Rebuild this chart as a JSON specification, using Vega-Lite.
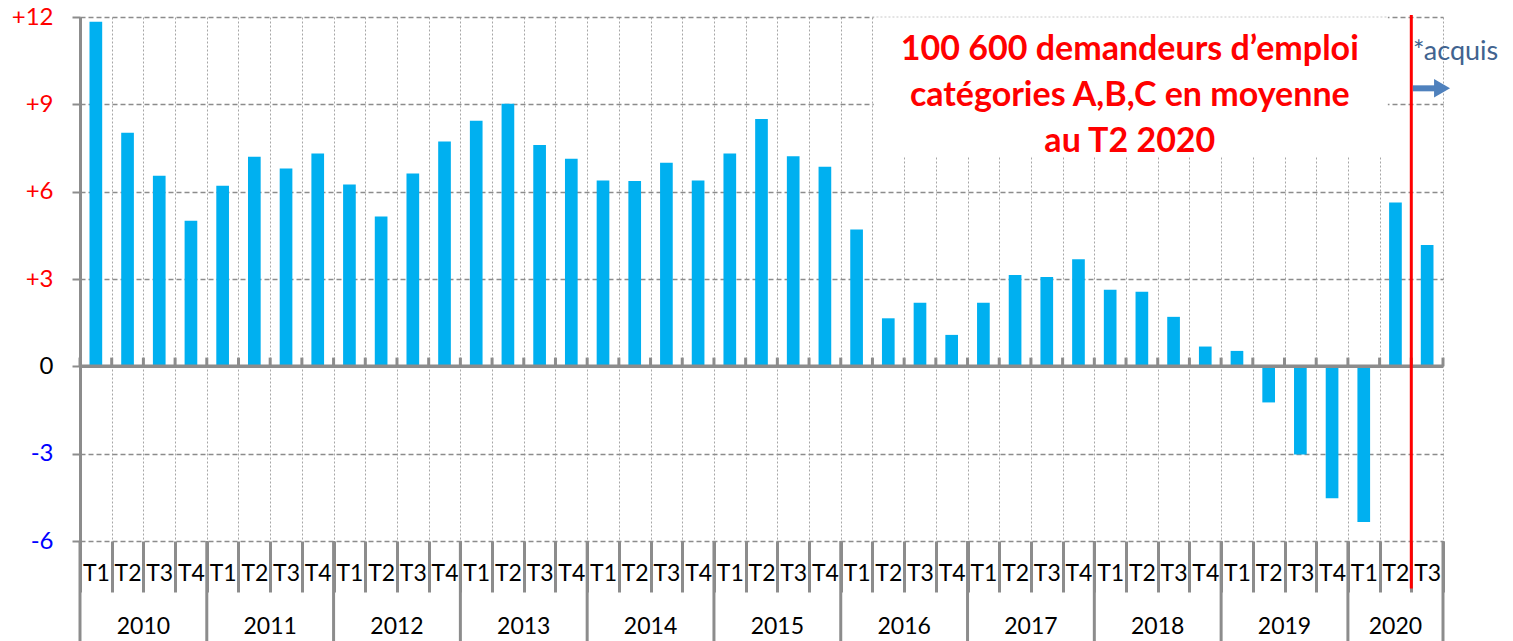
{
  "$schema": "https://vega.github.io/schema/vega-lite/v6.json",
  "width": 1363,
  "height": 524,
  "autosize": {"type": "none"},
  "padding": {"left": 80, "top": 17, "right": 70, "bottom": 100},
  "background": "white",
  "config": {"view": {"stroke": null}, "font": "Lato"},
  "datasets": {
    "q": [
      {"key": "2010-T1", "year": "2010", "q": "T1", "value": 11.84},
      {"key": "2010-T2", "year": "2010", "q": "T2", "value": 8.02},
      {"key": "2010-T3", "year": "2010", "q": "T3", "value": 6.55},
      {"key": "2010-T4", "year": "2010", "q": "T4", "value": 5.0},
      {"key": "2011-T1", "year": "2011", "q": "T1", "value": 6.2},
      {"key": "2011-T2", "year": "2011", "q": "T2", "value": 7.2},
      {"key": "2011-T3", "year": "2011", "q": "T3", "value": 6.8},
      {"key": "2011-T4", "year": "2011", "q": "T4", "value": 7.31},
      {"key": "2012-T1", "year": "2012", "q": "T1", "value": 6.25},
      {"key": "2012-T2", "year": "2012", "q": "T2", "value": 5.15},
      {"key": "2012-T3", "year": "2012", "q": "T3", "value": 6.62},
      {"key": "2012-T4", "year": "2012", "q": "T4", "value": 7.72},
      {"key": "2013-T1", "year": "2013", "q": "T1", "value": 8.44},
      {"key": "2013-T2", "year": "2013", "q": "T2", "value": 9.02},
      {"key": "2013-T3", "year": "2013", "q": "T3", "value": 7.6},
      {"key": "2013-T4", "year": "2013", "q": "T4", "value": 7.13},
      {"key": "2014-T1", "year": "2014", "q": "T1", "value": 6.38},
      {"key": "2014-T2", "year": "2014", "q": "T2", "value": 6.37},
      {"key": "2014-T3", "year": "2014", "q": "T3", "value": 6.99},
      {"key": "2014-T4", "year": "2014", "q": "T4", "value": 6.38},
      {"key": "2015-T1", "year": "2015", "q": "T1", "value": 7.31},
      {"key": "2015-T2", "year": "2015", "q": "T2", "value": 8.5},
      {"key": "2015-T3", "year": "2015", "q": "T3", "value": 7.22},
      {"key": "2015-T4", "year": "2015", "q": "T4", "value": 6.86},
      {"key": "2016-T1", "year": "2016", "q": "T1", "value": 4.7},
      {"key": "2016-T2", "year": "2016", "q": "T2", "value": 1.65},
      {"key": "2016-T3", "year": "2016", "q": "T3", "value": 2.18},
      {"key": "2016-T4", "year": "2016", "q": "T4", "value": 1.08},
      {"key": "2017-T1", "year": "2017", "q": "T1", "value": 2.18},
      {"key": "2017-T2", "year": "2017", "q": "T2", "value": 3.14},
      {"key": "2017-T3", "year": "2017", "q": "T3", "value": 3.07},
      {"key": "2017-T4", "year": "2017", "q": "T4", "value": 3.68},
      {"key": "2018-T1", "year": "2018", "q": "T1", "value": 2.63},
      {"key": "2018-T2", "year": "2018", "q": "T2", "value": 2.56},
      {"key": "2018-T3", "year": "2018", "q": "T3", "value": 1.7},
      {"key": "2018-T4", "year": "2018", "q": "T4", "value": 0.68},
      {"key": "2019-T1", "year": "2019", "q": "T1", "value": 0.53},
      {"key": "2019-T2", "year": "2019", "q": "T2", "value": -1.24},
      {"key": "2019-T3", "year": "2019", "q": "T3", "value": -3.03},
      {"key": "2019-T4", "year": "2019", "q": "T4", "value": -4.53},
      {"key": "2020-T1", "year": "2020", "q": "T1", "value": -5.35},
      {"key": "2020-T2", "year": "2020", "q": "T2", "value": 5.63},
      {"key": "2020-T3", "year": "2020", "q": "T3", "value": 4.17}
    ]
  },
  "layer": [
    {
      "data": {"name": "q"},
      "mark": {"type": "bar", "color": "#00B0F0", "width": {"band": 0.4}},
      "encoding": {
        "x": {
          "field": "key", "type": "ordinal",
          "scale": {"paddingInner": 0, "paddingOuter": 0},
          "axis": {
            "title": null, "orient": "bottom", "domain": false,
            "tickBand": "extent", "grid": true,
            "gridColor": "#a6a6a6", "gridDash": [2, 2], "gridWidth": 1,
            "ticks": true, "tickSize": 51, "tickWidth": 3, "tickColor": "#8c8c8c",
            "labelExpr": "split(datum.value, '-')[1]",
            "labelAngle": 0, "labelFont": "Lato", "labelFontSize": 23,
            "labelColor": "#000000", "labelBaseline": "middle", "labelPadding": -19,
            "labelOverlap": false
          }
        },
        "y": {
          "field": "value", "type": "quantitative",
          "scale": {"domain": [-6, 12], "nice": false, "zero": false},
          "axis": {
            "title": null, "values": [-6, -3, 0, 3, 6, 9, 12],
            "grid": true, "gridColor": "#8c8c8c", "gridDash": [5, 3], "gridWidth": 1.5,
            "domain": true, "domainColor": "#8c8c8c", "domainWidth": 3,
            "tickSize": 8, "tickWidth": 2, "tickColor": "#8c8c8c",
            "labelPadding": 19, "labelFont": "Lato", "labelFontSize": 24,
            "labelExpr": "datum.value > 0 ? '+' + datum.value : '' + datum.value",
            "labelColor": {
              "condition": [
                {"test": "datum.value > 0", "value": "#FF0000"},
                {"test": "datum.value == 0", "value": "#000000"}
              ],
              "value": "#0000FF"
            }
          }
        }
      }
    },
    {
      "data": {"values": [{}]},
      "mark": {"type": "rule", "color": "#8c8c8c", "strokeWidth": 3.5},
      "encoding": {"y": {"datum": 0, "type": "quantitative"}}
    },
    {
      "data": {"name": "q"},
      "mark": {"type": "rule", "color": "#8c8c8c", "strokeWidth": 3},
      "encoding": {
        "x": {"field": "key", "type": "ordinal", "bandPosition": 0},
        "y": {"datum": 0, "type": "quantitative"},
        "y2": {"datum": 0.3}
      }
    },
    {
      "data": {"values": [{}]},
      "mark": {"type": "rule", "color": "#8c8c8c", "strokeWidth": 3},
      "encoding": {
        "x": {"datum": "2020-T3", "type": "ordinal", "bandPosition": 1},
        "y": {"datum": 0, "type": "quantitative"},
        "y2": {"datum": 0.3}
      }
    },
    {
      "data": {"name": "q"},
      "transform": [{"filter": "datum.q == 'T1'"}],
      "mark": {"type": "rule", "color": "#8c8c8c", "strokeWidth": 3},
      "encoding": {
        "x": {"field": "key", "type": "ordinal", "bandPosition": 0},
        "y": {"datum": -6, "type": "quantitative"},
        "y2": {"datum": -9.6}
      }
    },
    {
      "data": {"values": [{}]},
      "mark": {"type": "rule", "color": "#8c8c8c", "strokeWidth": 3},
      "encoding": {
        "x": {"datum": "2020-T3", "type": "ordinal", "bandPosition": 1},
        "y": {"datum": -6, "type": "quantitative"},
        "y2": {"datum": -9.6}
      }
    },
    {
      "data": {"name": "q"},
      "transform": [{"filter": "datum.q == 'T2' && datum.year != '2020'"}],
      "mark": {"type": "text", "font": "Lato", "fontSize": 23, "color": "#000000", "baseline": "middle", "align": "center"},
      "encoding": {
        "x": {"field": "key", "type": "ordinal", "bandPosition": 1},
        "y": {"datum": -8.97, "type": "quantitative"},
        "text": {"field": "year"}
      }
    },
    {
      "data": {"name": "q"},
      "transform": [{"filter": "datum.key == '2020-T2'"}],
      "mark": {"type": "text", "font": "Lato", "fontSize": 23, "color": "#000000", "baseline": "middle", "align": "center"},
      "encoding": {
        "x": {"field": "key", "type": "ordinal", "bandPosition": 0.5},
        "y": {"datum": -8.97, "type": "quantitative"},
        "text": {"field": "year"}
      }
    },
    {
      "data": {"values": [{}]},
      "mark": {"type": "rect", "fill": "white", "stroke": null},
      "encoding": {
        "x": {"datum": "2016-T2", "type": "ordinal", "bandPosition": 0.04},
        "x2": {"datum": "2020-T2", "bandPosition": 0.26},
        "y": {"datum": 12.08, "type": "quantitative"},
        "y2": {"datum": 7.2}
      }
    },
    {
      "data": {"values": [{}]},
      "mark": {"type": "rule", "color": "#c8c8c8", "strokeWidth": 1, "strokeDash": [2, 2]},
      "encoding": {
        "x": {"datum": "2016-T2", "type": "ordinal", "bandPosition": 0},
        "x2": {"datum": "2020-T2", "bandPosition": 0.26},
        "y": {"datum": 12, "type": "quantitative"}
      }
    },
    {
      "data": {"values": [{}]},
      "mark": {
        "type": "text", "font": "Lato", "fontWeight": "bold", "fontSize": 34,
        "color": "#FF0000", "align": "center", "baseline": "middle", "lineHeight": 46,
        "text": ["100 600 demandeurs d’emploi", "catégories A,B,C en moyenne", "au T2 2020"]
      },
      "encoding": {
        "x": {"datum": "2018-T2", "type": "ordinal", "bandPosition": 0.12},
        "y": {"datum": 10.88, "type": "quantitative"}
      }
    },
    {
      "data": {"values": [{}]},
      "mark": {"type": "text", "font": "Lato", "fontSize": 27, "color": "#41638F", "align": "left", "baseline": "middle", "text": "*acquis"},
      "encoding": {
        "x": {"datum": "2020-T3", "type": "ordinal", "bandPosition": 0.05},
        "y": {"datum": 10.8, "type": "quantitative"}
      }
    },
    {
      "data": {"values": [{}]},
      "mark": {"type": "rule", "color": "#4F81BD", "strokeWidth": 6},
      "encoding": {
        "x": {"datum": "2020-T3", "type": "ordinal", "bandPosition": 0.05},
        "x2": {"datum": "2020-T3", "bandPosition": 0.75},
        "y": {"datum": 9.55, "type": "quantitative"}
      }
    },
    {
      "data": {"values": [{}]},
      "mark": {"type": "point", "shape": "triangle-right", "filled": true, "color": "#4F81BD", "size": 340, "opacity": 1},
      "encoding": {
        "x": {"datum": "2020-T3", "type": "ordinal", "bandPosition": 0.97},
        "y": {"datum": 9.55, "type": "quantitative"}
      }
    },
    {
      "data": {"values": [{}]},
      "mark": {"type": "rule", "color": "#FF0000", "strokeWidth": 3},
      "encoding": {
        "x": {"datum": "2020-T2", "type": "ordinal", "bandPosition": 1},
        "y": {"datum": 12.07, "type": "quantitative"},
        "y2": {"datum": -7.63}
      }
    }
  ]
}
